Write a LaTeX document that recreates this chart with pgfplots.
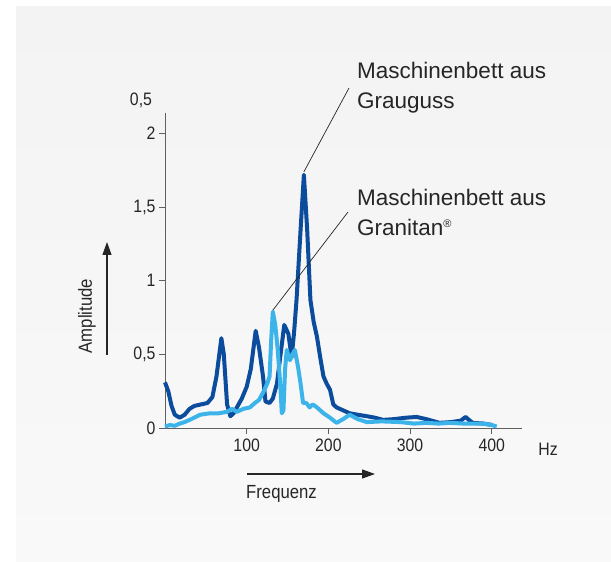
\documentclass[border=0pt]{standalone}
\usepackage{fontspec}
\setmainfont{Liberation Sans}
\newfontfamily\narrowfont{Liberation Sans}[FakeStretch=0.88]
\usepackage{pgfplots}
\pgfplotsset{compat=1.18}
\usetikzlibrary{arrows.meta}
\definecolor{dblue}{HTML}{0B4C9C}
\definecolor{lblue}{HTML}{3CB4EA}
\definecolor{txt}{HTML}{262626}
\definecolor{axgray}{HTML}{606060}
\definecolor{bgtop}{HTML}{F3F3F3}
\definecolor{bgbot}{HTML}{F9F9F9}
\begin{document}
\begin{tikzpicture}[x=1pt,y=1pt]
\useasboundingbox (0,0) rectangle (611,562);
\fill[white] (0,0) rectangle (611,562);
\shade[top color=bgtop, bottom color=bgbot] (16,0) rectangle (611,555);
\begin{axis}[
  at={(165pt,134pt)}, anchor=south west,
  scale only axis, width=357pt, height=315pt,
  xmin=0, xmax=437, ymin=0, ymax=2.14,
  axis lines=left,
  axis line style={-, axgray, line width=0.9pt},
  xtick={100,200,300,400}, ytick={0,0.5,1,1.5,2},
  tick align=outside, major tick length=6pt,
  tick style={axgray, line width=0.9pt},
  /pgf/number format/use comma,
  /pgf/number format/assume math mode=true,
  ticklabel style={font=\narrowfont\fontsize{18}{18}\selectfont, text=txt},
  xticklabel style={yshift=-1pt},
  clip=false,
]
\addplot[dblue, line width=4pt, line join=round] table {
0 0.31
4 0.25
8 0.15
12 0.09
18 0.07
24 0.09
30 0.13
36 0.15
44 0.16
52 0.17
58 0.21
63 0.35
69 0.61
72 0.50
76 0.16
80 0.08
84 0.10
88 0.14
94 0.20
100 0.28
105 0.40
111 0.66
115 0.55
120 0.35
123 0.18
128 0.17
132 0.20
137 0.30
141 0.48
146 0.70
151 0.64
155 0.48
158 0.65
161 0.87
166 1.35
170 1.72
174 1.35
178 0.87
182 0.72
186 0.62
190 0.48
194 0.35
198 0.30
202 0.26
206 0.16
210 0.14
218 0.12
226 0.10
236 0.09
247 0.08
257 0.07
267 0.055
280 0.06
295 0.07
308 0.075
320 0.06
336 0.035
350 0.04
362 0.05
368 0.075
373 0.05
377 0.035
390 0.03
401 0.02
};
\addplot[lblue, line width=4pt, line join=round] table {
0 0.01
6 0.02
12 0.015
18 0.03
24 0.04
32 0.06
43 0.09
55 0.10
66 0.10
76 0.11
82 0.13
88 0.11
96 0.13
104 0.14
110 0.17
115 0.19
120 0.24
125 0.30
128 0.35
130 0.60
132 0.79
135 0.70
138 0.53
141 0.30
143 0.10
145 0.12
147 0.40
149 0.53
153 0.46
156 0.50
159 0.53
163 0.41
166 0.30
169 0.17
173 0.17
177 0.14
181 0.16
186 0.14
194 0.10
202 0.07
210 0.035
218 0.06
226 0.09
236 0.06
247 0.04
265 0.045
288 0.04
305 0.03
320 0.035
335 0.03
349 0.035
365 0.03
389 0.03
400 0.02
406 0.01
};
\coordinate (pA) at (axis cs:170,1.74);
\coordinate (pB) at (axis cs:132,0.80);
\end{axis}
\draw[txt, line width=0.7pt] (pA) -- (349,474);
\draw[txt, line width=0.7pt] (pB) -- (348,350);
\node[anchor=west, text=txt, align=left, font=\fontsize{22.5}{30}\selectfont, inner sep=0pt] at (357,474) {Maschinenbett aus\\Grauguss};
\node[anchor=west, text=txt, align=left, font=\fontsize{22.5}{30}\selectfont, inner sep=0pt] at (357,350) {Maschinenbett aus\\Granitan\textsuperscript{\fontsize{11}{11}\selectfont ®}};
\node[rotate=90, text=txt, font=\narrowfont\fontsize{19}{19}\selectfont] at (87,246) {Amplitude};
\draw[-{Triangle[length=13pt,width=9pt]}, line width=1.2pt, black!85] (107,207) -- (107,320);
\draw[-{Triangle[length=13pt,width=9pt]}, line width=1.2pt, black!85] (247,88) -- (375,88);
\node[anchor=west, text=txt, font=\narrowfont\fontsize{19}{19}\selectfont, inner sep=0pt] at (246,68) {Frequenz};
\node[text=txt, font=\narrowfont\fontsize{18}{18}\selectfont] at (548,113) {Hz};
\node[text=txt, font=\narrowfont\fontsize{18}{18}\selectfont] at (141,462) {0,5};
\end{tikzpicture}
\end{document}
